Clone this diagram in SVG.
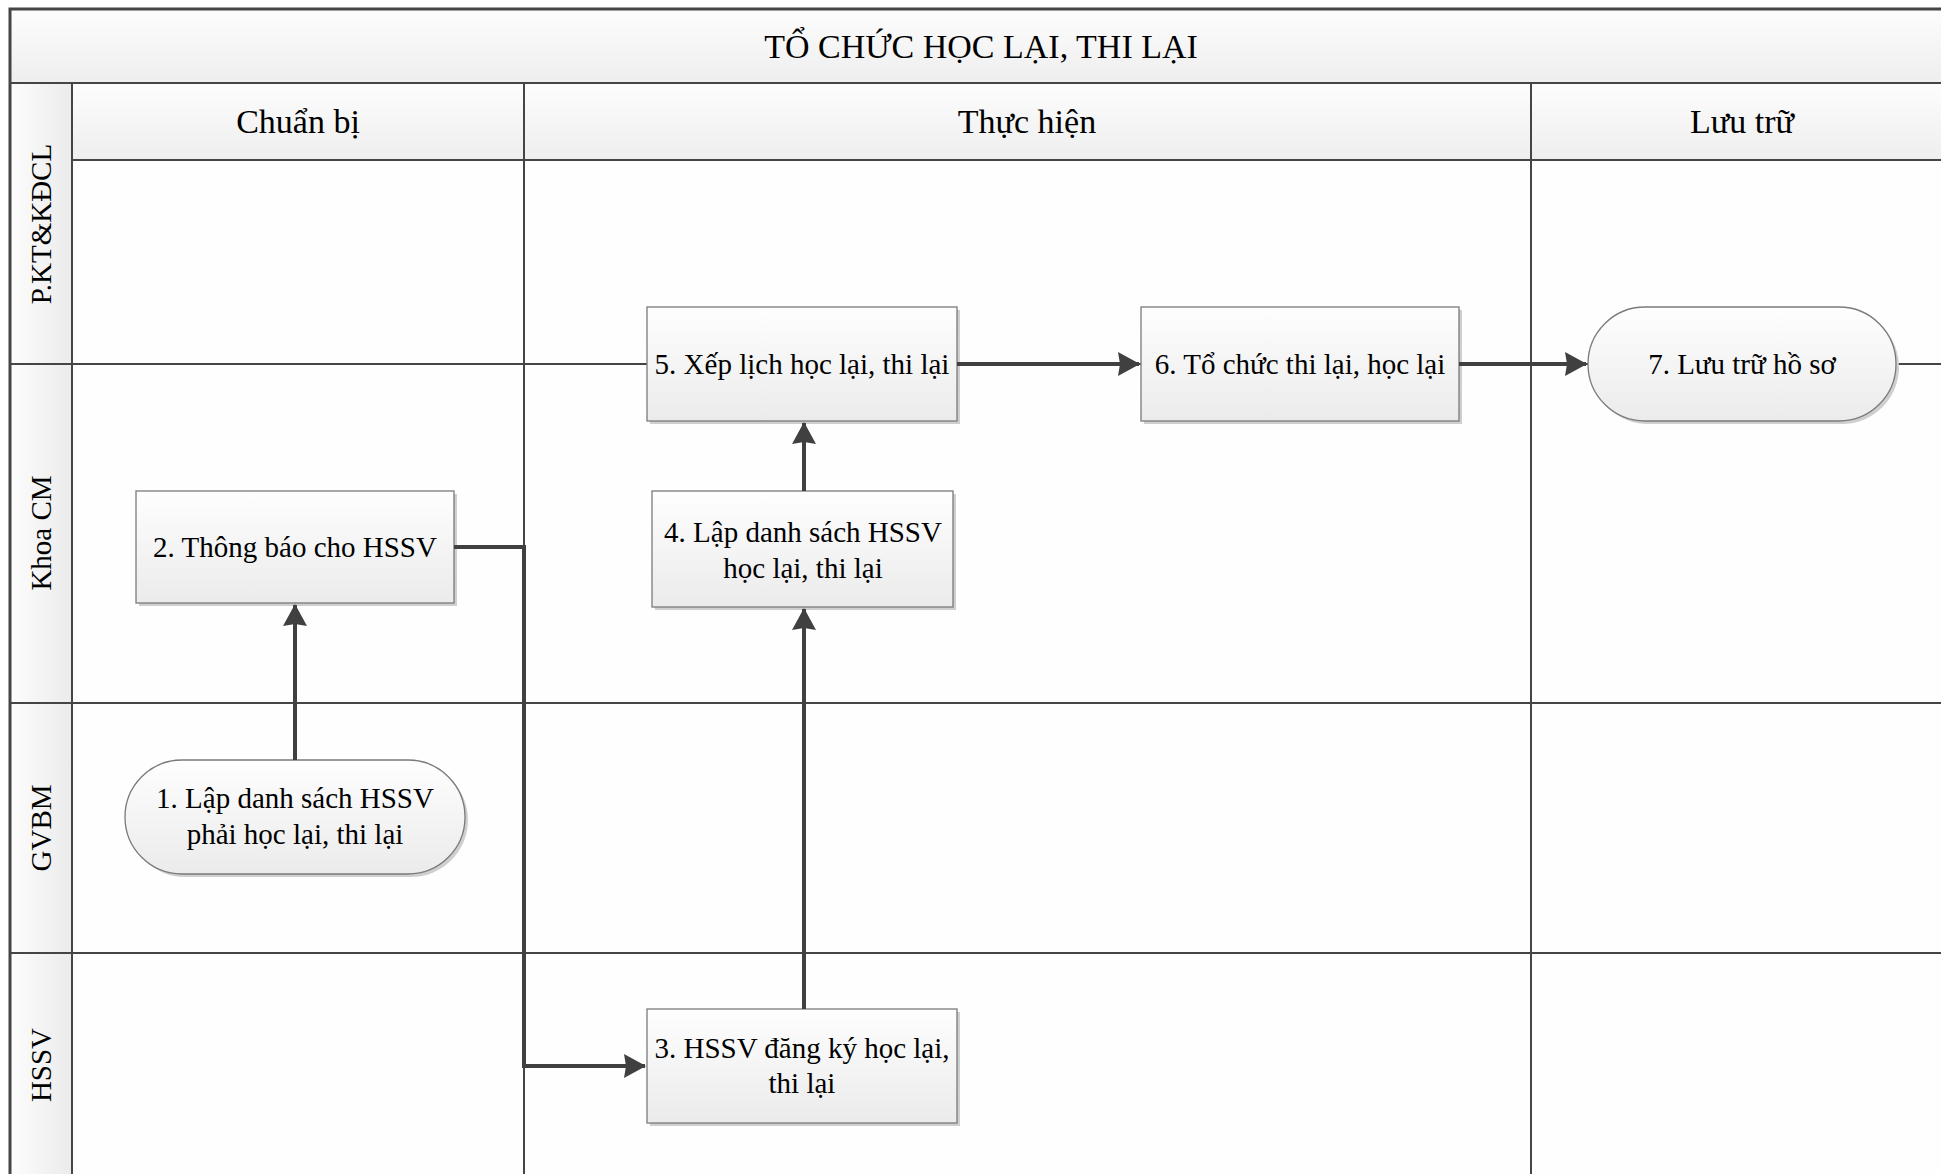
<svg xmlns="http://www.w3.org/2000/svg" width="1941" height="1174" viewBox="0 0 1941 1174">
<style>
.t{font-family:"Liberation Serif","Times New Roman",serif;fill:#000;text-anchor:middle;dominant-baseline:central}
.hd{font-size:34px}
.ln{font-size:29px}
.nd{font-size:29px}
.grid{stroke:#454545;stroke-width:2;fill:none}
.frame{stroke:#454545;stroke-width:3;fill:none}
.box{fill:url(#gBox);stroke:#7a7a7a;stroke-width:1.3}
.shd{fill:#cfcfcf}
.con{stroke:#404040;stroke-width:4;fill:none}
</style>
<defs>
<linearGradient id="gBox" x1="0" y1="0" x2="0" y2="1">
<stop offset="0" stop-color="#fefefe"/>
<stop offset="1" stop-color="#ebebeb"/>
</linearGradient>
<linearGradient id="gHead" x1="0" y1="0" x2="0" y2="1">
<stop offset="0" stop-color="#fdfdfd"/>
<stop offset="1" stop-color="#eeeeee"/>
</linearGradient>
<linearGradient id="gLane" x1="0" y1="0" x2="1" y2="0">
<stop offset="0" stop-color="#fdfdfd"/>
<stop offset="1" stop-color="#ebebeb"/>
</linearGradient>
<marker id="arr" markerUnits="userSpaceOnUse" viewBox="0 0 22 24" markerWidth="22" markerHeight="24" refX="21" refY="12" orient="auto">
<path d="M0,0 L22,12 L0,24 L2,12 Z" fill="#404040"/>
</marker>
</defs>
<rect width="1941" height="1174" fill="#ffffff"/>
<g id="pool">
<rect x="10" y="9" width="1943" height="74" fill="url(#gHead)"/>
<rect x="72" y="83" width="1881" height="77" fill="url(#gHead)"/>
<rect x="10" y="83" width="62" height="1100" fill="url(#gLane)"/>
<rect x="72" y="160" width="1881" height="1020" fill="#fefefe"/>
<g class="grid">
<line x1="10" y1="83" x2="1953" y2="83"/>
<line x1="72" y1="160" x2="1953" y2="160"/>
<line x1="72" y1="83" x2="72" y2="1180"/>
<line x1="524" y1="83" x2="524" y2="1180"/>
<line x1="1531" y1="83" x2="1531" y2="1180"/>
<line x1="10" y1="364" x2="1953" y2="364"/>
<line x1="10" y1="703" x2="1953" y2="703"/>
<line x1="10" y1="953" x2="1953" y2="953"/>
</g>
<rect class="frame" x="10" y="9" width="1943" height="1170"/>
<text class="t hd" x="981" y="46">TỔ CHỨC HỌC LẠI, THI LẠI</text>
<text class="t hd" x="298" y="121">Chuẩn bị</text>
<text class="t hd" x="1027" y="121">Thực hiện</text>
<text class="t hd" x="1742" y="121">Lưu trữ</text>
<text class="t ln" transform="translate(41,224) rotate(-90)">P.KT&amp;KĐCL</text>
<text class="t ln" transform="translate(41,533) rotate(-90)">Khoa CM</text>
<text class="t ln" transform="translate(41,828) rotate(-90)">GVBM</text>
<text class="t ln" transform="translate(41,1065) rotate(-90)">HSSV</text>
</g>
<g id="n1">
<rect class="shd" x="128" y="763" width="340" height="114" rx="57"/>
<rect class="box" x="125" y="760" width="340" height="114" rx="57"/>
<text class="t nd" x="295" y="798">1. Lập danh sách HSSV</text>
<text class="t nd" x="295" y="834">phải học lại, thi lại</text>
</g>
<g id="n2">
<rect class="shd" x="139" y="494" width="318" height="112"/>
<rect class="box" x="136" y="491" width="318" height="112"/>
<text class="t nd" x="295" y="547">2. Thông báo cho HSSV</text>
</g>
<g id="n3">
<rect class="shd" x="650" y="1012" width="310" height="114"/>
<rect class="box" x="647" y="1009" width="310" height="114"/>
<text class="t nd" x="802" y="1048">3. HSSV đăng ký học lại,</text>
<text class="t nd" x="802" y="1083">thi lại</text>
</g>
<g id="n4">
<rect class="shd" x="655" y="494" width="301" height="116"/>
<rect class="box" x="652" y="491" width="301" height="116"/>
<text class="t nd" x="803" y="532">4. Lập danh sách HSSV</text>
<text class="t nd" x="803" y="568">học lại, thi lại</text>
</g>
<g id="n5">
<rect class="shd" x="650" y="310" width="310" height="114"/>
<rect class="box" x="647" y="307" width="310" height="114"/>
<text class="t nd" x="802" y="364">5. Xếp lịch học lại, thi lại</text>
</g>
<g id="n6">
<rect class="shd" x="1144" y="310" width="318" height="114"/>
<rect class="box" x="1141" y="307" width="318" height="114"/>
<text class="t nd" x="1300" y="364">6. Tổ chức thi lại, học lại</text>
</g>
<g id="n7">
<rect class="shd" x="1591" y="310" width="308" height="114" rx="57"/>
<rect class="box" x="1588" y="307" width="308" height="114" rx="57"/>
<text class="t nd" x="1742" y="364">7. Lưu trữ hồ sơ</text>
</g>
<g id="connectors">
<path class="con" d="M295,760 V605" marker-end="url(#arr)"/>
<path class="con" d="M454,547 H524 V1066 H645" marker-end="url(#arr)"/>
<path class="con" d="M804,1009 V609" marker-end="url(#arr)"/>
<path class="con" d="M804,491 V423" marker-end="url(#arr)"/>
<path class="con" d="M957,364 H1139" marker-end="url(#arr)"/>
<path class="con" d="M1459,364 H1586" marker-end="url(#arr)"/>
</g>
</svg>
